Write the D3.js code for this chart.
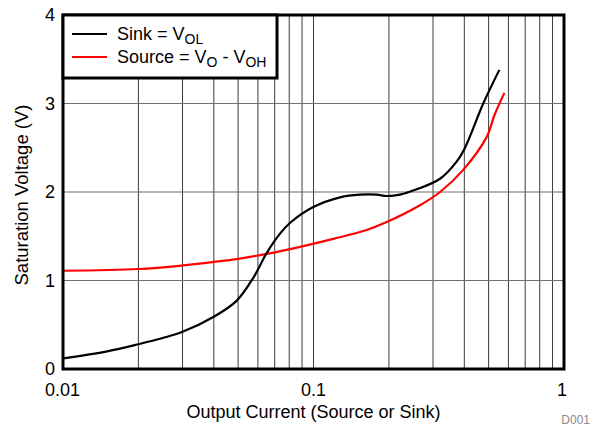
<!DOCTYPE html>
<html>
<head>
<meta charset="utf-8">
<script src="https://d3js.org/d3.v7.min.js"></script>
<style>
  body { margin: 0; background: #fff; }
  text { font-family: "Liberation Sans", Arial, sans-serif; }
</style>
</head>
<body>
<script>
// output current (A) and saturation voltage (V)
var sinkCurrent = [0.01, 0.015, 0.02, 0.025, 0.03, 0.04, 0.0493, 0.0575, 0.065, 0.0735, 0.0805, 0.0998,
                   0.1276, 0.1534, 0.1788, 0.196, 0.2215, 0.258, 0.32, 0.372, 0.401, 0.476, 0.552];
var sinkVolt    = [0.12, 0.2, 0.28, 0.35, 0.42, 0.59, 0.77, 1.03, 1.31, 1.53, 1.65, 1.83,
                   1.94, 1.97, 1.97, 1.955, 1.97, 2.03, 2.15, 2.34, 2.49, 3.0, 3.38];
var sourceCurrent = [0.01, 0.02, 0.03, 0.04, 0.05, 0.065, 0.0884, 0.12, 0.163, 0.196,
                     0.266, 0.32, 0.396, 0.491, 0.528, 0.578];
var sourceVolt    = [1.11, 1.13, 1.17, 1.21, 1.245, 1.3, 1.38, 1.47, 1.57, 1.66,
                     1.85, 2.0, 2.25, 2.62, 2.87, 3.12];
var xTicks = [0.01, 0.1, 1];
var xTickLabels = ["0.01", "0.1", "1"];
var yTicks = [0, 1, 2, 3, 4];

var width = 592, height = 432;
var margin = {left: 63, right: 28, top: 15, bottom: 63};

var svg = d3.select("body").append("svg")
    .attr("width", width)
    .attr("height", height);

var x = d3.scaleLog().domain([0.01, 1]).range([margin.left, width - margin.right]);
var y = d3.scaleLinear().domain([0, 4]).range([height - margin.bottom, margin.top]);

//minor + major vertical gridlines
var gridX = [];
[0.01, 0.1].forEach(function(d) {
  for (var k = 1; k <= 10; k++) gridX.push(d * k);
});

svg.append("g").selectAll("line")
    .data(gridX)
    .enter().append("line")
    .attr("x1", function(d) { return x(d); })
    .attr("x2", function(d) { return x(d); })
    .attr("y1", y(0))
    .attr("y2", y(4))
    .attr("stroke", "#3c3c3c")
    .attr("stroke-width", 1);

svg.append("g").selectAll("line")
    .data(yTicks)
    .enter().append("line")
    .attr("x1", x(0.01))
    .attr("x2", x(1))
    .attr("y1", function(d) { return y(d); })
    .attr("y2", function(d) { return y(d); })
    .attr("stroke", "#6e6e6e")
    .attr("stroke-width", 1);

var line = d3.line()
    .x(function(d) { return x(d[0]); })
    .y(function(d) { return y(d[1]); })
    .curve(d3.curveCatmullRom.alpha(0.5));

svg.append("path")
    .datum(d3.zip(sourceCurrent, sourceVolt))
    .attr("d", line)
    .attr("fill", "none")
    .attr("stroke", "#ff0000")
    .attr("stroke-width", 2.2);

svg.append("path")
    .datum(d3.zip(sinkCurrent, sinkVolt))
    .attr("d", line)
    .attr("fill", "none")
    .attr("stroke", "#000")
    .attr("stroke-width", 2.2);

//frame
svg.append("rect")
    .attr("x", x(0.01))
    .attr("y", y(4))
    .attr("width", x(1) - x(0.01))
    .attr("height", y(0) - y(4))
    .attr("fill", "none")
    .attr("stroke", "#000")
    .attr("stroke-width", 3);

//tick labels
svg.append("g").selectAll("text")
    .data(yTicks)
    .enter().append("text")
    .attr("x", x(0.01) - 8)
    .attr("y", function(d) { return y(d) + 6; })
    .attr("text-anchor", "end")
    .attr("font-size", 18)
    .text(function(d) { return d; });

svg.append("g").selectAll("text")
    .data(xTicks)
    .enter().append("text")
    .attr("x", function(d) { return x(d); })
    .attr("y", y(0) + 27)
    .attr("text-anchor", function(d, i) { return i == 0 ? "start" : (i == xTicks.length - 1 ? "end" : "middle"); })
    .attr("dx", function(d, i) { return i == 0 ? -18 : (i == xTicks.length - 1 ? 3 : 0); })
    .attr("font-size", 18)
    .text(function(d, i) { return xTickLabels[i]; });

svg.append("text")
    .attr("x", (x(0.01) + x(1)) / 2)
    .attr("y", y(0) + 49)
    .attr("text-anchor", "middle")
    .attr("font-size", 18)
    .text("Output Current (Source or Sink)");

svg.append("text")
    .attr("transform", "translate(28," + (y(2) + 3) + ") rotate(-90)")
    .attr("text-anchor", "middle")
    .attr("font-size", 18.5)
    .text("Saturation Voltage (V)");

svg.append("text")
    .attr("x", width - 2)
    .attr("y", height - 8)
    .attr("text-anchor", "end")
    .attr("font-size", 12)
    .attr("fill", "#8c8c8c")
    .text("D001");

//legend
var legend = svg.append("g")
    .attr("transform", "translate(" + x(0.01) + "," + y(4) + ")");

legend.append("rect")
    .attr("width", 214)
    .attr("height", 63)
    .attr("fill", "#fff")
    .attr("stroke", "#000")
    .attr("stroke-width", 3);

var legendItems = [
  {color: "#000", parts: [["Sink = V", false], ["OL", true]]},
  {color: "#ff0000", parts: [["Source = V", false], ["O", true], [" - V", false], ["OH", true]]}
];

legendItems.forEach(function(item, i) {
  var ly = 19 + i * 23;
  legend.append("line")
      .attr("x1", 9).attr("x2", 44)
      .attr("y1", ly).attr("y2", ly)
      .attr("stroke", item.color)
      .attr("stroke-width", 2.2);
  var t = legend.append("text")
      .attr("x", 54)
      .attr("y", ly + 6)
      .attr("font-size", 18);
  var shift = 0;
  item.parts.forEach(function(p) {
    var dy = p[1] ? 4 - shift : -shift;
    shift = p[1] ? 4 : 0;
    t.append("tspan")
        .attr("font-size", p[1] ? 14 : 18)
        .attr("dy", dy)
        .text(p[0]);
  });
});
</script>
</body>
</html>
